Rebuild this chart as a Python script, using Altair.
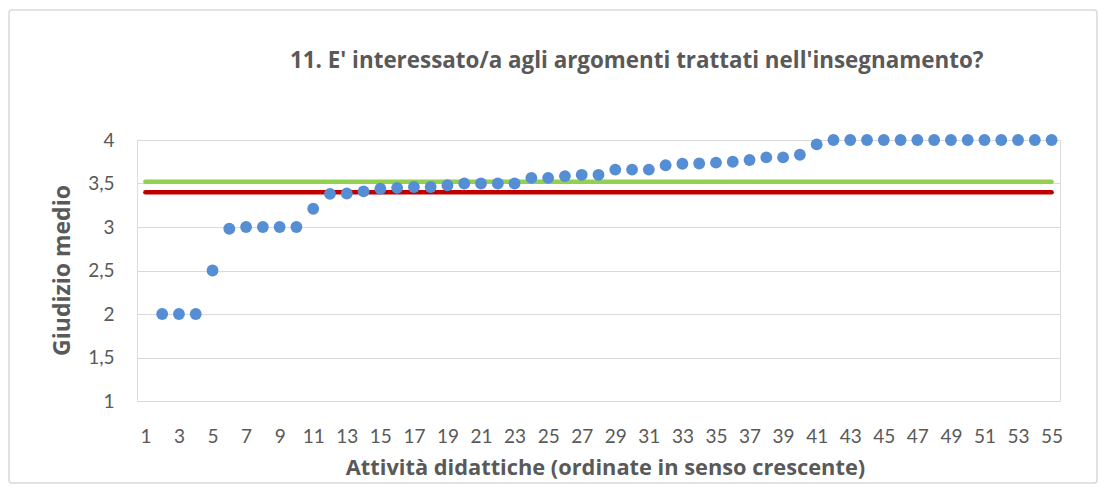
import altair as alt
import pandas as pd

# ---- data ----
categories = list(range(2, 56))
values = [2.0, 2.0, 2.0, 2.5, 2.98, 3.0, 3.0, 3.0, 3.0, 3.21,
          3.38, 3.385, 3.41, 3.44, 3.45, 3.46, 3.46, 3.48, 3.50, 3.50,
          3.50, 3.50, 3.565, 3.565, 3.585, 3.60, 3.60, 3.66, 3.66, 3.66,
          3.71, 3.727, 3.73, 3.74, 3.75, 3.77, 3.80, 3.80, 3.83, 3.95,
          4.0, 4.0, 4.0, 4.0, 4.0, 4.0, 4.0, 4.0, 4.0, 4.0,
          4.0, 4.0, 4.0, 4.0]
line_names = ["green", "red"]
line_values = [3.52, 3.40]
line_colors = ["#92D050", "#C00000"]
x_first, x_last = 1, 55
x_ticks = list(range(1, 56, 2))
y_ticks = [1, 1.5, 2, 2.5, 3, 3.5, 4]

title_text = "11. E' interessato/a agli argomenti trattati nell'insegnamento?"
x_title = "Attività didattiche (ordinate in senso crescente)"
y_title = "Giudizio medio"

FONT = "Lato"
TFONT = "Open Sans"
GREY = "#595959"

points_df = pd.DataFrame({"cat": categories, "val": values})
lines_df = pd.DataFrame(
    [{"name": n, "cat": c, "val": v}
     for n, v in zip(line_names, line_values) for c in (x_first, x_last)]
)

W, H = 923, 261

x_scale = alt.Scale(domain=[0.5, 55.5], nice=False, zero=False)
y_scale = alt.Scale(domain=[1, 4], nice=False, zero=False)

x_axis = alt.Axis(values=x_ticks, grid=False, domain=False, ticks=False,
                  labelPadding=26, labelFontSize=19, labelColor=GREY, labelFont=FONT,
                  labelOverlap=False, labelFlush=False, labelBound=False,
                  title=x_title, titleFont=TFONT, titleFontSize=21.8, titleFontWeight="bold",
                  titleColor=GREY, titleX=468, titleY=73, titleBaseline="alphabetic")
y_axis = alt.Axis(values=y_ticks, grid=True, gridColor="#D9D9D9", gridWidth=1.2,
                  domain=False, ticks=False, labelPadding=23, labelFontSize=19,
                  labelColor=GREY, labelFont=FONT, labelOverlap=False,
                  labelExpr="replace(toString(datum.value), '.', ',')",
                  title=y_title, titleFont=TFONT, titleFontSize=23, titleFontWeight="bold",
                  titleColor=GREY, titleX=-68, titleY=130, titleAngle=-90,
                  titleBaseline="alphabetic", titleAlign="center")

frame = alt.Chart(pd.DataFrame({"k": [0]})).mark_rect(
    fill=None, stroke="#D9D9D9", strokeWidth=1.5, cornerRadius=3
).encode(
    x=alt.value(-128), x2=alt.value(W + 37), y=alt.value(-130), y2=alt.value(H + 82)
)

lines = alt.Chart(lines_df).mark_line(strokeWidth=4.5, strokeCap="round").encode(
    x=alt.X("cat:Q", scale=x_scale, axis=x_axis),
    y=alt.Y("val:Q", scale=y_scale, axis=y_axis),
    color=alt.Color("name:N", scale=alt.Scale(domain=line_names, range=line_colors),
                    legend=None),
)

points = alt.Chart(points_df).mark_circle(size=140, opacity=1, color="#558ED5").encode(
    x=alt.X("cat:Q", scale=x_scale, axis=x_axis),
    y=alt.Y("val:Q", scale=y_scale, axis=y_axis),
)

chart = alt.layer(frame, lines, points).properties(
    width=W, height=H,
    title=alt.TitleParams(title_text, font=TFONT, fontSize=22.4, fontWeight="bold",
                          color=GREY, anchor="start", frame="group", dx=153,
                          baseline="alphabetic", offset=-81),
    autosize=alt.AutoSizeParams(type="none"),
    padding={"left": 129, "top": 132, "right": 39, "bottom": 84},
).configure_view(stroke=None).configure_axis(labelOverlap=False).configure(background="white")

chart.save("out.html", embed_options={"renderer": "svg", "actions": False})
